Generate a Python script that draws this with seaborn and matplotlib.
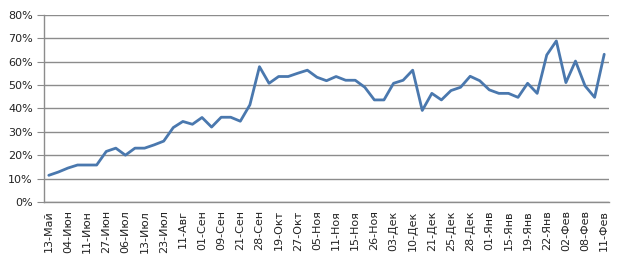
import matplotlib
matplotlib.use("Agg")
import matplotlib.pyplot as plt
import seaborn as sns
import numpy as np
import pandas as pd
from matplotlib.ticker import FixedLocator, PercentFormatter

tick_labels = ["13-Май", "04-Июн", "11-Июн", "27-Июн", "06-Июл", "13-Июл", "23-Июл",
               "11-Авг", "01-Сен", "09-Сен", "21-Сен", "28-Сен", "19-Окт", "27-Окт",
               "05-Ноя", "11-Ноя", "15-Ноя", "26-Ноя", "03-Дек", "10-Дек", "21-Дек",
               "25-Дек", "28-Дек", "01-Янв", "15-Янв", "19-Янв", "22-Янв", "02-Фев",
               "08-Фев", "11-Фев"]

values = [11.4, 12.8, 14.5, 15.8, 15.8, 15.8, 21.6, 23.0, 20.0, 23.0,
          23.0, 24.4, 26.0, 31.8, 34.4, 33.2, 36.1, 32.0, 36.2, 36.2,
          34.5, 41.5, 57.8, 50.7, 53.6, 53.6, 55.0, 56.3, 53.3, 51.8,
          53.6, 52.0, 52.0, 49.0, 43.6, 43.6, 50.7, 52.0, 56.3, 39.1,
          46.4, 43.6, 47.6, 49.0, 53.7, 51.8, 47.9, 46.4, 46.4, 44.7,
          50.7, 46.4, 62.8, 68.8, 51.0, 60.2, 49.6, 44.7, 63.1]

df = pd.DataFrame({"idx": np.arange(len(values)), "value": values})

sns.set_theme(style="white")
plt.rcParams['font.family'] = ['DejaVu Sans']

fig = plt.figure(figsize=(6.24, 2.63), dpi=100)
ax = fig.add_axes([44/624, 1-202/263, (609-44)/624, (202-14.7)/263])

sns.lineplot(data=df, x="idx", y="value", ax=ax, color="#4A78AE", linewidth=2.0)

ax.set_xlim(-0.5, len(values) - 0.5)
ax.set_ylim(0, 80)
ax.set_yticks(np.arange(0, 81, 10))
ax.yaxis.set_major_formatter(PercentFormatter(decimals=0))
ax.yaxis.grid(True, color="#8C8C8C", linewidth=1.0)
ax.set_axisbelow(True)

major_pos = np.arange(0, len(values), 2)
ax.set_xticks(major_pos)
ax.set_xticklabels(tick_labels, rotation=90, fontsize=8, color="#222222")
ax.xaxis.set_minor_locator(FixedLocator(np.arange(-0.5, len(values), 1)))
ax.tick_params(axis="x", which="major", length=0, pad=6)
ax.tick_params(axis="x", which="minor", length=5, width=0.8, color="#8C8C8C", direction="out")
ax.tick_params(axis="y", which="major", length=5, width=0.8, color="#8C8C8C",
               direction="out", labelsize=8, labelcolor="#222222", left=True, pad=3)

for s in ["top", "right"]:
    ax.spines[s].set_visible(False)
for s in ["left", "bottom"]:
    ax.spines[s].set_color("#8C8C8C")
    ax.spines[s].set_linewidth(1.0)

ax.set_xlabel("")
ax.set_ylabel("")

fig.savefig("out.png", dpi=100)
